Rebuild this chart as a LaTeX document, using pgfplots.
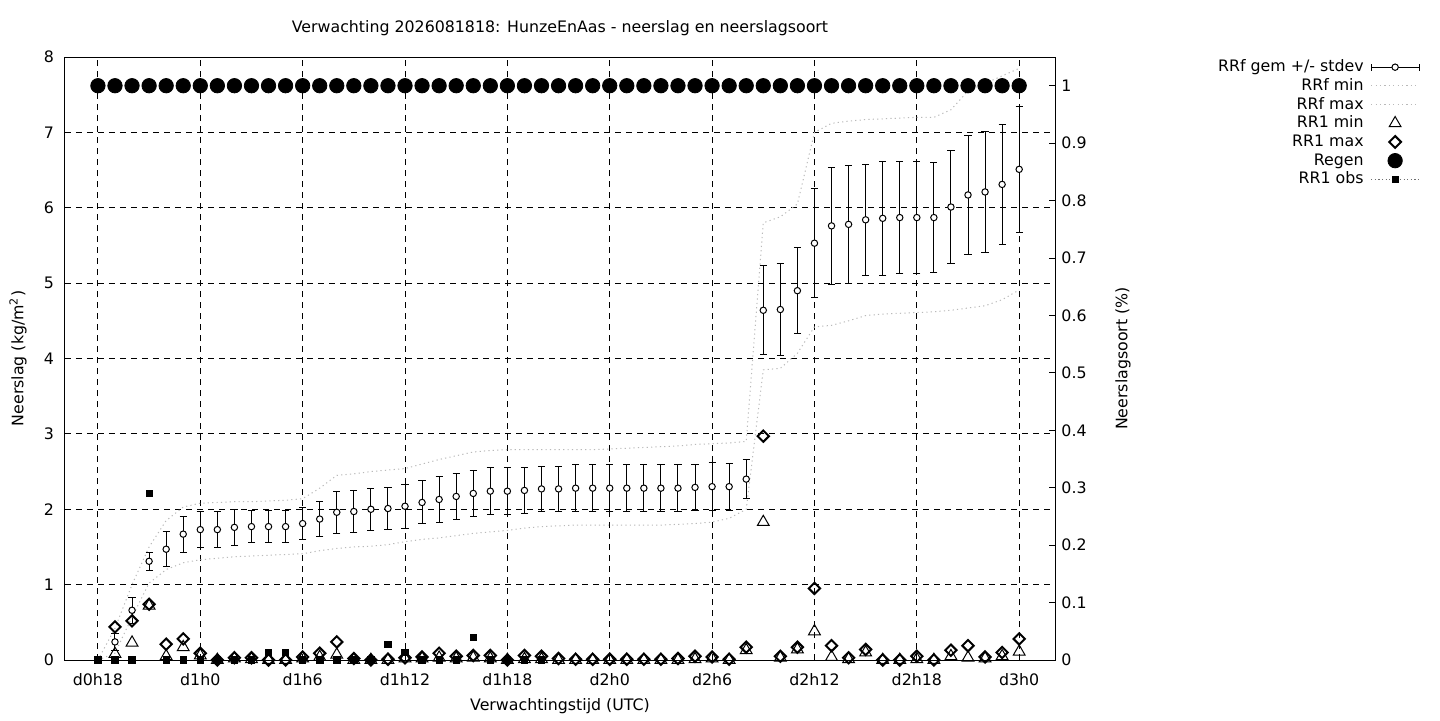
\documentclass[border=0pt]{standalone}
\usepackage{pgfplots}
\usepackage{pgfplotstable}
\pgfplotsset{compat=1.18}
\usepackage{fontspec}
\setmainfont{DejaVu Sans}
\definecolor{minmax}{RGB}{185,185,185}
\definecolor{obsline}{RGB}{110,110,110}

% hour (from d0h0), RRf mean, stdev, RRf min/max, RR1 min/max, regen fraction
\pgfplotstableread{
h  mean  sd     fmin  fmax  rmin  rmax  regen
18 nan   0.000  0.00  0.00  nan   nan   1
19 0.24  0.110  0.09  0.42  0.08  0.44  1
20 0.66  0.170  0.57  1.00  0.23  0.52  1
21 1.31  0.120  1.02  1.50  0.72  0.74  1
22 1.47  0.230  1.20  1.85  0.05  0.21  1
23 1.67  0.240  1.29  2.03  0.17  0.28  1
24 1.73  0.235  1.33  2.08  0.06  0.09  1
25 1.73  0.235  1.35  2.09  0.00  0.00  1
26 1.76  0.235  1.37  2.10  0.02  0.03  1
27 1.77  0.215  1.38  2.10  0.01  0.03  1
28 1.77  0.215  1.39  2.11  0.00  0.00  1
29 1.77  0.215  1.40  2.12  0.00  0.00  1
30 1.81  0.210  1.41  2.14  0.02  0.04  1
31 1.87  0.235  1.45  2.28  0.04  0.09  1
32 1.96  0.280  1.48  2.45  0.07  0.24  1
33 1.97  0.280  1.50  2.47  0.00  0.02  1
34 2.00  0.280  1.51  2.50  0.00  0.00  1
35 2.01  0.280  1.53  2.52  0.00  0.01  1
36 2.04  0.290  1.57  2.54  0.02  0.03  1
37 2.09  0.285  1.60  2.60  0.02  0.04  1
38 2.13  0.300  1.62  2.66  0.03  0.09  1
39 2.17  0.300  1.65  2.71  0.02  0.05  1
40 2.21  0.300  1.68  2.76  0.03  0.06  1
41 2.24  0.315  1.70  2.78  0.02  0.06  1
42 2.24  0.315  1.72  2.79  0.00  0.00  1
43 2.25  0.310  1.75  2.79  0.01  0.06  1
44 2.27  0.300  1.77  2.79  0.01  0.05  1
45 2.27  0.300  1.78  2.79  0.00  0.02  1
46 2.28  0.310  1.79  2.79  0.00  0.01  1
47 2.28  0.310  1.79  2.79  0.00  0.01  1
48 2.28  0.310  1.79  2.80  0.00  0.01  1
49 2.28  0.310  1.79  2.81  0.00  0.01  1
50 2.28  0.310  1.79  2.82  0.00  0.01  1
51 2.28  0.310  1.79  2.83  0.00  0.01  1
52 2.28  0.310  1.80  2.84  0.00  0.02  1
53 2.29  0.310  1.81  2.86  0.01  0.05  1
54 2.30  0.315  1.83  2.87  0.02  0.04  1
55 2.30  0.310  1.88  2.88  0.00  0.01  1
56 2.40  0.260  2.00  2.90  0.13  0.17  1
57 4.64  0.590  3.85  5.80  1.83  2.97  1
58 4.65  0.605  3.87  5.88  0.03  0.05  1
59 4.90  0.570  4.07  6.05  0.14  0.17  1
60 5.53  0.720  4.42  7.00  0.38  0.95  1
61 5.76  0.780  4.44  7.12  0.04  0.19  1
62 5.78  0.780  4.50  7.15  0.01  0.03  1
63 5.84  0.740  4.57  7.17  0.10  0.14  1
64 5.86  0.755  4.59  7.18  0.00  0.00  1
65 5.87  0.745  4.60  7.19  0.00  0.00  1
66 5.87  0.740  4.61  7.20  0.01  0.05  1
67 5.87  0.730  4.62  7.20  0.00  0.00  1
68 6.01  0.750  4.64  7.30  0.05  0.13  1
69 6.17  0.795  4.67  7.55  0.03  0.19  1
70 6.21  0.805  4.70  7.65  0.02  0.04  1
71 6.31  0.795  4.78  7.75  0.05  0.10  1
72 6.51  0.835  4.91  7.85  0.11  0.28  1
}\fc

\pgfplotstableread{
h  obs
18 0
19 0
20 0
21 2.21
22 0
23 0
24 0
25 0
26 0
27 0
28 0.10
29 0.10
30 0
31 0
32 0
33 0
34 0
35 0.21
36 0.10
37 0
38 0
39 0
40 0.30
41 0
42 0
43 0
44 0
}\obs

\begin{document}
\fontsize{7.9}{9.5}\selectfont
\begin{tikzpicture}[font=\fontsize{7.9}{9.5}\selectfont]
\path[use as bounding box] (-32.5pt,-30pt) rectangle (687.5pt,330pt);
\pgfplotsset{
  base/.style={
    scale only axis, width=495pt, height=301.5pt,
    xmin=16.07, xmax=74.1,
    /pgf/number format/assume math mode=true,
    tick align=inside, major tick length=3pt,
    every tick/.style={black, line width=0.5pt},
    axis line style={black, line width=0.5pt},
  }
}
\begin{axis}[base,
  ymin=0, ymax=8,
  xtick={18,24,...,72},
  xticklabels={d0h18,d1h0,d1h6,d1h12,d1h18,d2h0,d2h6,d2h12,d2h18,d3h0},
  ytick={0,1,...,8},
  xtick pos=bottom, ytick pos=left,
  xmajorgrids, ymajorgrids,
  grid style={black, line width=0.5pt, dash pattern=on 3pt off 2.5pt},
  xticklabel style={yshift=-4pt},
  yticklabel style={xshift=-2.7pt},
  title={Verwachting 2026081818: HunzeEnAas - neerslag en neerslagsoort},
  title style={at={(0.5,1)}, anchor=center, yshift=8.5pt},
  xlabel={Verwachtingstijd (UTC)},
  xlabel style={at={(0.5,0)}, anchor=center, yshift=-23pt},
  ylabel={Neerslag (kg/m\textsuperscript{2})},
  ylabel style={at={(axis description cs:-0.0475,0.5)}, anchor=center},
]
\addplot[only marks, mark=*, mark size=1.6pt,
  mark options={fill=white, draw=black, line width=0.5pt},
  error bars/.cd, y dir=both, y explicit,
  error bar style={black, line width=0.5pt},
  error mark options={rotate=90, mark size=1.8pt, black, line width=0.5pt}]
  table[x=h, y=mean, y error=sd] {\fc};
\addplot[minmax, line width=0.5pt, dash pattern=on 0.6pt off 1.6pt, no markers]
  table[x=h, y=fmin] {\fc};
\addplot[minmax, line width=0.5pt, dash pattern=on 0.6pt off 1.6pt, no markers]
  table[x=h, y=fmax] {\fc};
\addplot[only marks, mark=triangle, mark size=3.4pt,
  mark options={black, line width=0.5pt}]
  table[x=h, y=rmin] {\fc};
\addplot[only marks, mark=square, mark size=2pt,
  mark options={black, line width=1pt, rotate=45}]
  table[x=h, y=rmax] {\fc};
\addplot[only marks, mark=square*, mark size=1.6pt, black]
  table[x=h, y=obs] {\obs};
\end{axis}

\begin{axis}[base,
  ymin=0, ymax=1.05,
  axis x line=none, axis y line*=right,
  ytick={0,0.1,0.2,0.3,0.4,0.5,0.6,0.7,0.8,0.9,1},
  yticklabels={0,0.1,0.2,0.3,0.4,0.5,0.6,0.7,0.8,0.9,1},
  yticklabel style={xshift=0.4pt},
  ylabel={Neerslagsoort (\%)},
  ylabel style={at={(axis description cs:1.0687,0.5)}, anchor=center},
  legend plot pos=right,
  legend cell align=right,
  legend style={at={(1.3687,0.9979)}, anchor=north east, draw=none, fill=none,
    inner sep=0pt, row sep=0.85pt, column sep=3pt,
    nodes={inner sep=0.5pt, text height=6pt, text depth=1.5pt}},
]
\addlegendimage{legend image code/.code={
  \draw[black, line width=0.5pt] (0pt,0pt) -- (24pt,0pt);
  \draw[black, line width=0.5pt] (0pt,-1.8pt) -- (0pt,1.8pt);
  \draw[black, line width=0.5pt] (24pt,-1.8pt) -- (24pt,1.8pt);
  \draw[black, fill=white, line width=0.5pt] (12pt,0pt) circle (1.6pt);}}
\addlegendimage{legend image code/.code={
  \draw[minmax, line width=0.5pt, dash pattern=on 0.6pt off 1.6pt] (0pt,0pt) -- (24pt,0pt);}}
\addlegendimage{legend image code/.code={
  \draw[minmax, line width=0.5pt, dash pattern=on 0.6pt off 1.6pt] (0pt,0pt) -- (24pt,0pt);}}
\addlegendimage{legend image code/.code={
  \draw[black, line width=0.5pt, mark size=3.4pt] plot[mark=triangle] coordinates {(12pt,0pt)};}}
\addlegendimage{legend image code/.code={
  \draw[black, line width=1pt, mark size=2.1pt] plot[mark=square, mark options={rotate=45}] coordinates {(12pt,0pt)};}}
\addlegendimage{legend image code/.code={
  \fill[black] (12pt,0pt) circle (3.6pt);}}
\addlegendimage{legend image code/.code={
  \draw[obsline, line width=0.5pt, dash pattern=on 0.6pt off 1.2pt] (0pt,0pt) -- (24pt,0pt);
  \fill[black] (10.4pt,-1.6pt) rectangle (13.6pt,1.6pt);}}
\addplot[only marks, mark=*, mark size=3.6pt, black, forget plot]
  table[x=h, y=regen] {\fc};
\legend{RRf gem +/- stdev, RRf min, RRf max, RR1 min, RR1 max, Regen, RR1 obs}
\end{axis}
\end{tikzpicture}
\end{document}
